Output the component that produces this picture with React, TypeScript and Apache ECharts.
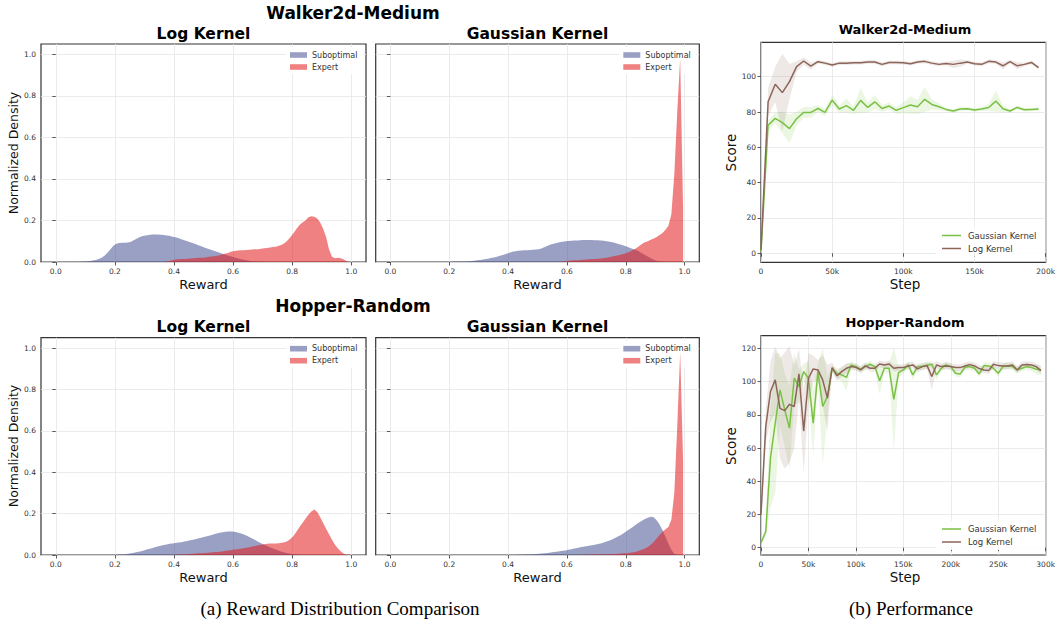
import React, { useEffect, useRef } from "react";
import * as echarts from "echarts";

// ---------- Histogram data (normalized density per reward bin, bin width 0.01 from 0 to 1) ----------
const BIN_WIDTH = 0.01;
const REWARD_TICKS = [0, 0.2, 0.4, 0.6, 0.8, 1.0];
const DENSITY_TICKS = [0, 0.2, 0.4, 0.6, 0.8, 1.0];

const WALKER_LOG_SUB = [
  0, 0, 0, 0, 0, 0, 0, 0, 0.001, 0.002,
  0.003, 0.005, 0.007, 0.01, 0.014, 0.02, 0.03, 0.045, 0.062, 0.078,
  0.088, 0.092, 0.093, 0.093, 0.094, 0.098, 0.106, 0.113, 0.12, 0.125,
  0.128, 0.13, 0.132, 0.133, 0.132, 0.131, 0.13, 0.128, 0.126, 0.122,
  0.119, 0.115, 0.11, 0.105, 0.1, 0.095, 0.09, 0.085, 0.08, 0.075,
  0.069, 0.064, 0.059, 0.054, 0.049, 0.044, 0.04, 0.035, 0.03, 0.026,
  0.022, 0.018, 0.014, 0.011, 0.008, 0.006, 0.004, 0.003, 0.002, 0.001,
  0, 0, 0, 0, 0, 0, 0, 0, 0, 0,
  0, 0, 0, 0, 0, 0, 0, 0, 0, 0,
  0, 0, 0, 0, 0, 0, 0, 0, 0, 0,
];
const WALKER_LOG_EXP = [
  0, 0, 0, 0, 0, 0, 0, 0, 0, 0,
  0, 0, 0, 0, 0, 0, 0, 0, 0, 0,
  0, 0, 0, 0, 0, 0, 0, 0, 0, 0,
  0, 0, 0, 0, 0, 0, 0, 0.002, 0.005, 0.008,
  0.012, 0.013, 0.014, 0.015, 0.016, 0.017, 0.018, 0.019, 0.02, 0.021,
  0.022, 0.024, 0.026, 0.028, 0.03, 0.033, 0.037, 0.041, 0.045, 0.05,
  0.053, 0.055, 0.056, 0.057, 0.058, 0.059, 0.06, 0.061, 0.062, 0.064,
  0.066, 0.068, 0.07, 0.072, 0.074, 0.078, 0.083, 0.092, 0.105, 0.122,
  0.14, 0.16, 0.178, 0.19, 0.2, 0.215, 0.22, 0.218, 0.21, 0.19,
  0.16, 0.12, 0.06, 0.025, 0.018, 0.02, 0.018, 0.012, 0.004, 0,
];
const WALKER_GAU_SUB = [
  0, 0, 0, 0, 0, 0, 0, 0, 0, 0,
  0, 0, 0, 0, 0, 0, 0, 0, 0, 0,
  0.001, 0.001, 0.002, 0.002, 0.003, 0.003, 0.004, 0.005, 0.006, 0.008,
  0.01, 0.012, 0.014, 0.017, 0.02, 0.023, 0.027, 0.031, 0.035, 0.04,
  0.045, 0.049, 0.052, 0.054, 0.055, 0.056, 0.057, 0.058, 0.059, 0.06,
  0.062, 0.066, 0.072, 0.078, 0.084, 0.088, 0.092, 0.095, 0.098, 0.1,
  0.101, 0.102, 0.103, 0.104, 0.105, 0.106, 0.106, 0.106, 0.106, 0.105,
  0.105, 0.104, 0.102, 0.1, 0.097, 0.095, 0.091, 0.087, 0.083, 0.078,
  0.074, 0.068, 0.063, 0.058, 0.05, 0.042, 0.034, 0.026, 0.018, 0.011,
  0.006, 0.003, 0.001, 0, 0, 0, 0, 0, 0, 0,
];
const WALKER_GAU_EXP = [
  0, 0, 0, 0, 0, 0, 0, 0, 0, 0,
  0, 0, 0, 0, 0, 0, 0, 0, 0, 0,
  0, 0, 0, 0, 0, 0, 0, 0, 0, 0,
  0, 0, 0, 0, 0, 0, 0, 0, 0, 0,
  0, 0, 0, 0, 0, 0, 0, 0, 0, 0,
  0, 0, 0, 0, 0, 0, 0, 0, 0.002, 0.004,
  0.006, 0.007, 0.008, 0.009, 0.01, 0.011, 0.012, 0.013, 0.014, 0.015,
  0.016, 0.017, 0.019, 0.021, 0.024, 0.027, 0.03, 0.033, 0.036, 0.04,
  0.044, 0.05, 0.058, 0.066, 0.076, 0.087, 0.095, 0.1, 0.107, 0.113,
  0.12, 0.13, 0.14, 0.155, 0.175, 0.23, 0.42, 0.72, 0.98, 0.25,
];
const HOPPER_LOG_SUB = [
  0, 0, 0, 0, 0, 0, 0, 0, 0, 0,
  0, 0, 0, 0, 0, 0, 0, 0, 0, 0,
  0.001, 0.002, 0.003, 0.004, 0.006, 0.008, 0.011, 0.014, 0.017, 0.021,
  0.025, 0.029, 0.033, 0.037, 0.041, 0.045, 0.048, 0.051, 0.054, 0.056,
  0.058, 0.06, 0.062, 0.065, 0.068, 0.071, 0.074, 0.077, 0.081, 0.084,
  0.088, 0.092, 0.096, 0.1, 0.104, 0.107, 0.11, 0.112, 0.113, 0.113,
  0.112, 0.109, 0.105, 0.1, 0.094, 0.087, 0.08, 0.072, 0.064, 0.057,
  0.05, 0.043, 0.037, 0.031, 0.026, 0.021, 0.016, 0.012, 0.009, 0.006,
  0.004, 0.002, 0.001, 0, 0, 0, 0, 0, 0, 0,
  0, 0, 0, 0, 0, 0, 0, 0, 0, 0,
];
const HOPPER_LOG_EXP = [
  0, 0, 0, 0, 0, 0, 0, 0, 0, 0,
  0, 0, 0, 0, 0, 0, 0, 0, 0, 0,
  0, 0, 0, 0, 0, 0, 0, 0, 0, 0,
  0, 0, 0, 0, 0, 0, 0, 0, 0, 0,
  0.001, 0.002, 0.002, 0.003, 0.004, 0.005, 0.006, 0.007, 0.008, 0.009,
  0.01, 0.011, 0.012, 0.014, 0.015, 0.016, 0.018, 0.02, 0.022, 0.024,
  0.026, 0.028, 0.03, 0.033, 0.035, 0.038, 0.041, 0.044, 0.047, 0.05,
  0.052, 0.054, 0.055, 0.056, 0.056, 0.057, 0.059, 0.062, 0.068, 0.078,
  0.093, 0.113, 0.135, 0.155, 0.175, 0.195, 0.21, 0.22, 0.208, 0.182,
  0.155, 0.127, 0.1, 0.074, 0.05, 0.032, 0.017, 0.006, 0.001, 0,
];
const HOPPER_GAU_SUB = [
  0, 0, 0, 0, 0, 0, 0, 0, 0, 0,
  0, 0, 0, 0, 0, 0, 0, 0, 0, 0,
  0, 0, 0, 0, 0, 0, 0, 0, 0, 0,
  0, 0, 0, 0, 0, 0, 0, 0, 0, 0,
  0, 0, 0, 0.001, 0.001, 0.002, 0.002, 0.003, 0.004, 0.005,
  0.006, 0.007, 0.009, 0.01, 0.012, 0.014, 0.016, 0.018, 0.02, 0.022,
  0.025, 0.028, 0.031, 0.034, 0.037, 0.04, 0.042, 0.045, 0.047, 0.05,
  0.053, 0.056, 0.06, 0.065, 0.07, 0.076, 0.083, 0.09, 0.098, 0.107,
  0.117, 0.127, 0.137, 0.147, 0.157, 0.166, 0.174, 0.18, 0.185, 0.182,
  0.168, 0.147, 0.12, 0.088, 0.055, 0.025, 0.005, 0, 0, 0,
];
const HOPPER_GAU_EXP = [
  0, 0, 0, 0, 0, 0, 0, 0, 0, 0,
  0, 0, 0, 0, 0, 0, 0, 0, 0, 0,
  0, 0, 0, 0, 0, 0, 0, 0, 0, 0,
  0, 0, 0, 0, 0, 0, 0, 0, 0, 0,
  0, 0, 0, 0, 0, 0, 0, 0, 0, 0,
  0, 0, 0, 0, 0, 0, 0, 0, 0, 0,
  0, 0, 0, 0, 0, 0.001, 0.001, 0.001, 0.002, 0.002,
  0.002, 0.003, 0.003, 0.004, 0.004, 0.005, 0.005, 0.006, 0.007, 0.008,
  0.009, 0.011, 0.013, 0.016, 0.02, 0.025, 0.031, 0.039, 0.049, 0.063,
  0.08, 0.097, 0.112, 0.124, 0.135, 0.17, 0.3, 0.62, 0.98, 0.45,
];

// ---------- Performance curves (steps in thousands) ----------
const WALKER_STEPS_K = [
  0, 5, 10, 15, 20, 25, 30, 35, 40, 45,
  50, 55, 60, 65, 70, 75, 80, 85, 90, 95,
  100, 105, 110, 115, 120, 125, 130, 135, 140, 145,
  150, 155, 160, 165, 170, 175, 180, 185, 190, 195,
];
const WALKER_GAU = [
  1, 72.5, 76.4, 74, 70.6, 76.2, 79.8, 79.8, 82, 79.8,
  86.8, 81.7, 83.6, 81, 86.6, 82.6, 85.8, 82, 83.4, 81,
  82.5, 84, 83, 87.2, 84.3, 83, 81.5, 80.6, 81.7, 81.9,
  81.1, 81.7, 82.6, 86.2, 81.9, 80.6, 82.6, 81.3, 81.5, 81.7,
];
const WALKER_GAU_STD = [
  1, 3, 3, 6, 8, 4, 3, 3, 2, 2,
  3, 2, 4, 2, 7, 3, 4, 2, 2, 2,
  3, 5, 4, 7, 3, 2, 1, 1, 1, 1,
  1, 1, 2, 6, 2, 1, 1, 1, 1, 1,
];
const WALKER_LOG = [
  2, 85.8, 95.7, 91, 97.2, 105.7, 108.9, 106, 108.5, 107.7,
  106.6, 107.7, 107.7, 107.9, 107.9, 108.3, 108.3, 107, 108.1, 108.1,
  107.9, 107.4, 108.3, 108.7, 107.7, 107, 107.5, 107, 107.7, 108.3,
  107.4, 107, 108.7, 108.3, 106.2, 108.5, 106.2, 107, 108.1, 105.1,
];
const WALKER_LOG_STD = [
  1, 8, 10, 22, 10, 3, 2, 2, 1, 1,
  1, 1, 1, 1, 1, 1, 1, 1, 1, 1,
  1, 1, 1, 1, 1, 1, 1, 2, 2, 1,
  1, 1, 1, 1, 2, 1, 2, 1, 1, 1,
];

const HOPPER_STEPS_K = [
  0, 5, 10, 15, 20, 25, 30, 35, 40, 45,
  50, 55, 60, 65, 70, 75, 80, 85, 90, 95,
  100, 105, 110, 115, 120, 125, 130, 135, 140, 145,
  150, 155, 160, 165, 170, 175, 180, 185, 190, 195,
  200, 205, 210, 215, 220, 225, 230, 235, 240, 245,
  250, 255, 260, 265, 270, 275, 280, 285, 290, 295,
];
const HOPPER_GAU = [
  3, 9.6, 54, 75, 95, 83, 72, 102, 97, 106,
  102, 75, 106, 85, 91, 108, 105, 104, 102.5, 110,
  109, 107.4, 109, 110.4, 109, 100.5, 108, 108, 89.3, 105.4,
  107, 110, 104, 109, 109, 109.8, 110.4, 104, 108, 110,
  109, 105, 104.6, 108.6, 109, 108, 104.6, 109.6, 109.4, 108,
  105, 109, 109.4, 109, 107, 108, 109, 108.4, 107.4, 107,
];
const HOPPER_GAU_STD = [
  1, 3, 30, 42, 22, 22, 25, 15, 10, 5,
  10, 20, 5, 35, 12, 2, 3, 4, 8, 2,
  2, 2, 2, 2, 2, 8, 3, 3, 31, 3,
  2, 2, 3, 2, 2, 2, 2, 3, 2, 2,
  2, 2, 2, 2, 2, 2, 2, 2, 2, 2,
  2, 2, 2, 2, 2, 2, 2, 2, 3, 3,
];
const HOPPER_LOG = [
  20, 72.8, 94, 101, 83.9, 82.5, 86.3, 84.9, 104.6, 70.2,
  102, 107.6, 107, 101, 90, 108.4, 103.4, 106, 108, 109,
  108.6, 107, 109.4, 108, 108, 110.6, 110, 110.6, 108, 108.4,
  108.4, 109.4, 110, 107.6, 109, 109.6, 103, 110, 109, 109.4,
  109, 108.4, 108.4, 109.4, 110.2, 109.4, 107.8, 107, 106.6, 110.4,
  109.6, 109.4, 109.4, 110, 107, 110, 110.2, 110, 109, 106.6,
];
const HOPPER_LOG_STD = [
  3, 10, 18, 20, 30, 35, 35, 25, 15, 25,
  15, 8, 6, 15, 20, 3, 3, 3, 3, 2,
  2, 2, 2, 2, 2, 2, 2, 2, 2, 2,
  2, 2, 2, 2, 2, 2, 8, 2, 2, 2,
  2, 2, 2, 2, 2, 2, 2, 2, 2, 2,
  2, 2, 2, 2, 2, 2, 2, 2, 2, 2,
];

const WALKER_STEP_TICKS = [0, 50000, 100000, 150000, 200000];
const HOPPER_STEP_TICKS = [0, 50000, 100000, 150000, 200000, 250000, 300000];
const WALKER_SCORE_TICKS = [0, 20, 40, 60, 80, 100];
const HOPPER_SCORE_TICKS = [0, 20, 40, 60, 80, 100, 120];

// ---------- Styles ----------
const SUB_COLOR = "#475294";
const EXP_COLOR = "#e41a1c";
const HIST_ALPHA = 0.55;
const GREEN = "#7ac143";
const BROWN = "#8c6458";
const FONT = "DejaVu Sans";
const TICK_COLOR = "#333";
const GRID_COLOR = "#e6e6e6";

const GRIDS = [
  { left: 41, top: 44, width: 325, height: 218 },
  { left: 375.7, top: 44, width: 323.6, height: 218 },
  { left: 41, top: 337.7, width: 325, height: 217.3 },
  { left: 375.7, top: 337.7, width: 323.6, height: 217.3 },
  { left: 761, top: 42.3, width: 288.3, height: 220 },
  { left: 761, top: 335.7, width: 288.3, height: 219.3 },
];

function axisCommon(ticks: number[], fmt: (v: number) => string, showLabel: boolean, step: number) {
  return {
    minInterval: step,
    maxInterval: step,
    axisLine: { show: false },
    axisTick: {
      show: true,
      length: 3.5,
      lineStyle: { color: TICK_COLOR, width: 0.8 },
      customValues: ticks,
    },
    axisLabel: {
      show: showLabel,
      customValues: ticks,
      formatter: fmt,
      fontSize: 7.5,
      color: TICK_COLOR,
      fontFamily: FONT,
      margin: 5,
    },
    splitLine: { show: true, lineStyle: { color: GRID_COLOR, width: 0.8 } },
  };
}

const fmt1 = (v: number) => v.toFixed(1);
const fmtK = (v: number) => (v === 0 ? "0" : Math.round(v / 1000) + "k");
const fmtInt = (v: number) => String(Math.round(v));

function histSeries(g: number, values: number[], color: string) {
  return {
    type: "line",
    xAxisIndex: g,
    yAxisIndex: g,
    silent: true,
    z: 92,
    symbol: "none",
    showSymbol: false,
    lineStyle: { width: 0, opacity: 0 },
    areaStyle: { color, opacity: HIST_ALPHA },
    data: values.map((v, i) => [(i + 0.5) * BIN_WIDTH, v]),
  };
}

function bandSeries(g: number, stepsK: number[], mean: number[], std: number[], color: string) {
  return {
    type: "custom",
    xAxisIndex: g,
    yAxisIndex: g,
    silent: true,
    data: [[stepsK[0] * 1000, mean[0]]],
    renderItem: (_params: any, api: any) => {
      const upper = stepsK.map((s, i) => api.coord([s * 1000, mean[i] + std[i]]));
      const lower = stepsK.map((s, i) => api.coord([s * 1000, mean[i] - std[i]])).reverse();
      return {
        type: "polygon",
        shape: { points: upper.concat(lower) },
        style: { fill: color, opacity: 0.15 },
      };
    },
  };
}

function lineSeries(g: number, name: string, stepsK: number[], mean: number[], color: string) {
  return {
    type: "line",
    name,
    xAxisIndex: g,
    yAxisIndex: g,
    silent: true,
    symbol: "none",
    showSymbol: false,
    lineStyle: { width: 1.5, color },
    itemStyle: { color },
    data: stepsK.map((s, i) => [s * 1000, mean[i]]),
  };
}

function text(x: number, y: number, t: string, size: number, opts: any = {}) {
  return {
    type: "text",
    x,
    y,
    z: opts.z || 100,
    rotation: opts.rotation || 0,
    silent: true,
    style: {
      text: t,
      fontSize: size,
      fontWeight: opts.bold ? "bold" : "normal",
      fontFamily: opts.family || FONT,
      fill: opts.color || "#111",
      align: opts.align || "center",
      verticalAlign: "middle",
    },
  };
}

function histLegend(right: number, top: number) {
  const items: any[] = [
    {
      type: "rect",
      silent: true,
      z: 90,
      shape: { x: right - 80, y: top - 8, width: 77, height: 27, r: 2 },
      style: { fill: "#ffffff", opacity: 0.9 },
    },
  ];
  const rows = [
    { label: "Suboptimal", color: SUB_COLOR },
    { label: "Expert", color: EXP_COLOR },
  ];
  rows.forEach((r, k) => {
    const cy = top + k * 12;
    items.push({
      type: "rect",
      silent: true,
      z: 95,
      shape: { x: right - 76, y: cy - 2.8, width: 17, height: 5.6 },
      style: { fill: r.color, opacity: HIST_ALPHA },
    });
    items.push(text(right - 54, cy, r.label, 8, { align: "left", color: "#333" }));
  });
  return items;
}

function lineLegend(y: number) {
  const items: any[] = [
    {
      type: "rect",
      silent: true,
      z: 90,
      shape: { x: 936, y: y - 8, width: 108, height: 29, r: 2 },
      style: { fill: "#ffffff", opacity: 0.85 },
    },
  ];
  const rows = [
    { label: "Gaussian Kernel", color: GREEN },
    { label: "Log Kernel", color: BROWN },
  ];
  rows.forEach((r, k) => {
    const cy = y + k * 13;
    items.push({
      type: "line",
      silent: true,
      z: 95,
      shape: { x1: 942, y1: cy, x2: 961, y2: cy },
      style: { stroke: r.color, lineWidth: 1.5 },
    });
    items.push(text(968, cy, r.label, 8.5, { align: "left", color: "#333" }));
  });
  return items;
}

export default function App() {
  const ref = useRef<HTMLDivElement>(null);

  useEffect(() => {
    if (!ref.current) return;
    const chart = echarts.init(ref.current, undefined, { renderer: "svg" });

    const grid = GRIDS.map((g) => ({
      ...g,
      show: true,
      borderColor: "#333",
      borderWidth: 1.2,
      backgroundColor: "transparent",
      containLabel: false,
    }));

    const xAxis: any[] = [];
    const yAxis: any[] = [];
    for (let g = 0; g < 4; g++) {
      xAxis.push({
        type: "value",
        gridIndex: g,
        min: -0.05,
        max: 1.05,
        ...axisCommon(REWARD_TICKS, fmt1, true, 0.2),
      });
      yAxis.push({
        type: "value",
        gridIndex: g,
        min: 0,
        max: 1.05,
        ...axisCommon(DENSITY_TICKS, fmt1, g % 2 === 0, 0.2),
      });
    }
    xAxis.push({ type: "value", gridIndex: 4, min: 0, max: 200000, ...axisCommon(WALKER_STEP_TICKS, fmtK, true, 50000) });
    yAxis.push({ type: "value", gridIndex: 4, min: -5.1, max: 119.5, ...axisCommon(WALKER_SCORE_TICKS, fmtInt, true, 20) });
    xAxis.push({ type: "value", gridIndex: 5, min: 0, max: 300000, ...axisCommon(HOPPER_STEP_TICKS, fmtK, true, 50000) });
    yAxis.push({ type: "value", gridIndex: 5, min: -4.4, max: 127.6, ...axisCommon(HOPPER_SCORE_TICKS, fmtInt, true, 20) });

    const series: any[] = [
      histSeries(0, WALKER_LOG_SUB, SUB_COLOR),
      histSeries(0, WALKER_LOG_EXP, EXP_COLOR),
      histSeries(1, WALKER_GAU_SUB, SUB_COLOR),
      histSeries(1, WALKER_GAU_EXP, EXP_COLOR),
      histSeries(2, HOPPER_LOG_SUB, SUB_COLOR),
      histSeries(2, HOPPER_LOG_EXP, EXP_COLOR),
      histSeries(3, HOPPER_GAU_SUB, SUB_COLOR),
      histSeries(3, HOPPER_GAU_EXP, EXP_COLOR),
      bandSeries(4, WALKER_STEPS_K, WALKER_GAU, WALKER_GAU_STD, GREEN),
      lineSeries(4, "Gaussian Kernel", WALKER_STEPS_K, WALKER_GAU, GREEN),
      bandSeries(4, WALKER_STEPS_K, WALKER_LOG, WALKER_LOG_STD, BROWN),
      lineSeries(4, "Log Kernel", WALKER_STEPS_K, WALKER_LOG, BROWN),
      bandSeries(5, HOPPER_STEPS_K, HOPPER_GAU, HOPPER_GAU_STD, GREEN),
      lineSeries(5, "Gaussian Kernel", HOPPER_STEPS_K, HOPPER_GAU, GREEN),
      bandSeries(5, HOPPER_STEPS_K, HOPPER_LOG, HOPPER_LOG_STD, BROWN),
      lineSeries(5, "Log Kernel", HOPPER_STEPS_K, HOPPER_LOG, BROWN),
    ];

    const graphics: any[] = [
      // super titles
      text(353, 12.5, "Walker2d-Medium", 17, { bold: true, color: "#000" }),
      text(353, 306, "Hopper-Random", 17, { bold: true, color: "#000" }),
      // subplot titles
      text(203.5, 33.5, "Log Kernel", 15.5, { bold: true, color: "#000" }),
      text(537.5, 33.5, "Gaussian Kernel", 15.5, { bold: true, color: "#000" }),
      text(203.5, 327.3, "Log Kernel", 15.5, { bold: true, color: "#000" }),
      text(537.5, 327.3, "Gaussian Kernel", 15.5, { bold: true, color: "#000" }),
      text(905, 29, "Walker2d-Medium", 13, { bold: true, color: "#000" }),
      text(905, 322, "Hopper-Random", 13, { bold: true, color: "#000" }),
      // axis names
      text(13, 153, "Normalized Density", 12.5, { rotation: Math.PI / 2 }),
      text(13, 446, "Normalized Density", 12.5, { rotation: Math.PI / 2 }),
      text(203.5, 284, "Reward", 13),
      text(537.5, 284, "Reward", 13),
      text(203.5, 577, "Reward", 13),
      text(537.5, 577, "Reward", 13),
      text(731, 152.5, "Score", 13.5, { rotation: Math.PI / 2 }),
      text(731, 446, "Score", 13.5, { rotation: Math.PI / 2 }),
      text(905, 284, "Step", 13.5),
      text(905, 577, "Step", 13.5),
      // captions
      text(340, 608, "(a) Reward Distribution Comparison", 19, { family: "Liberation Serif", color: "#000" }),
      text(911, 608, "(b) Performance", 19, { family: "Liberation Serif", color: "#000" }),
      ...histLegend(366, 55),
      ...histLegend(699.3, 55),
      ...histLegend(366, 348.7),
      ...histLegend(699.3, 348.7),
      ...lineLegend(235.5),
      ...lineLegend(529),
    ];

    chart.setOption({
      animation: false,
      backgroundColor: "#ffffff",
      grid,
      xAxis,
      yAxis,
      series,
      graphic: { elements: graphics },
    });

    return () => chart.dispose();
  }, []);

  return (
    <div
      ref={ref}
      style={{ position: "fixed", left: 0, top: 0, width: 1058, height: 623, background: "#fff" }}
    />
  );
}
